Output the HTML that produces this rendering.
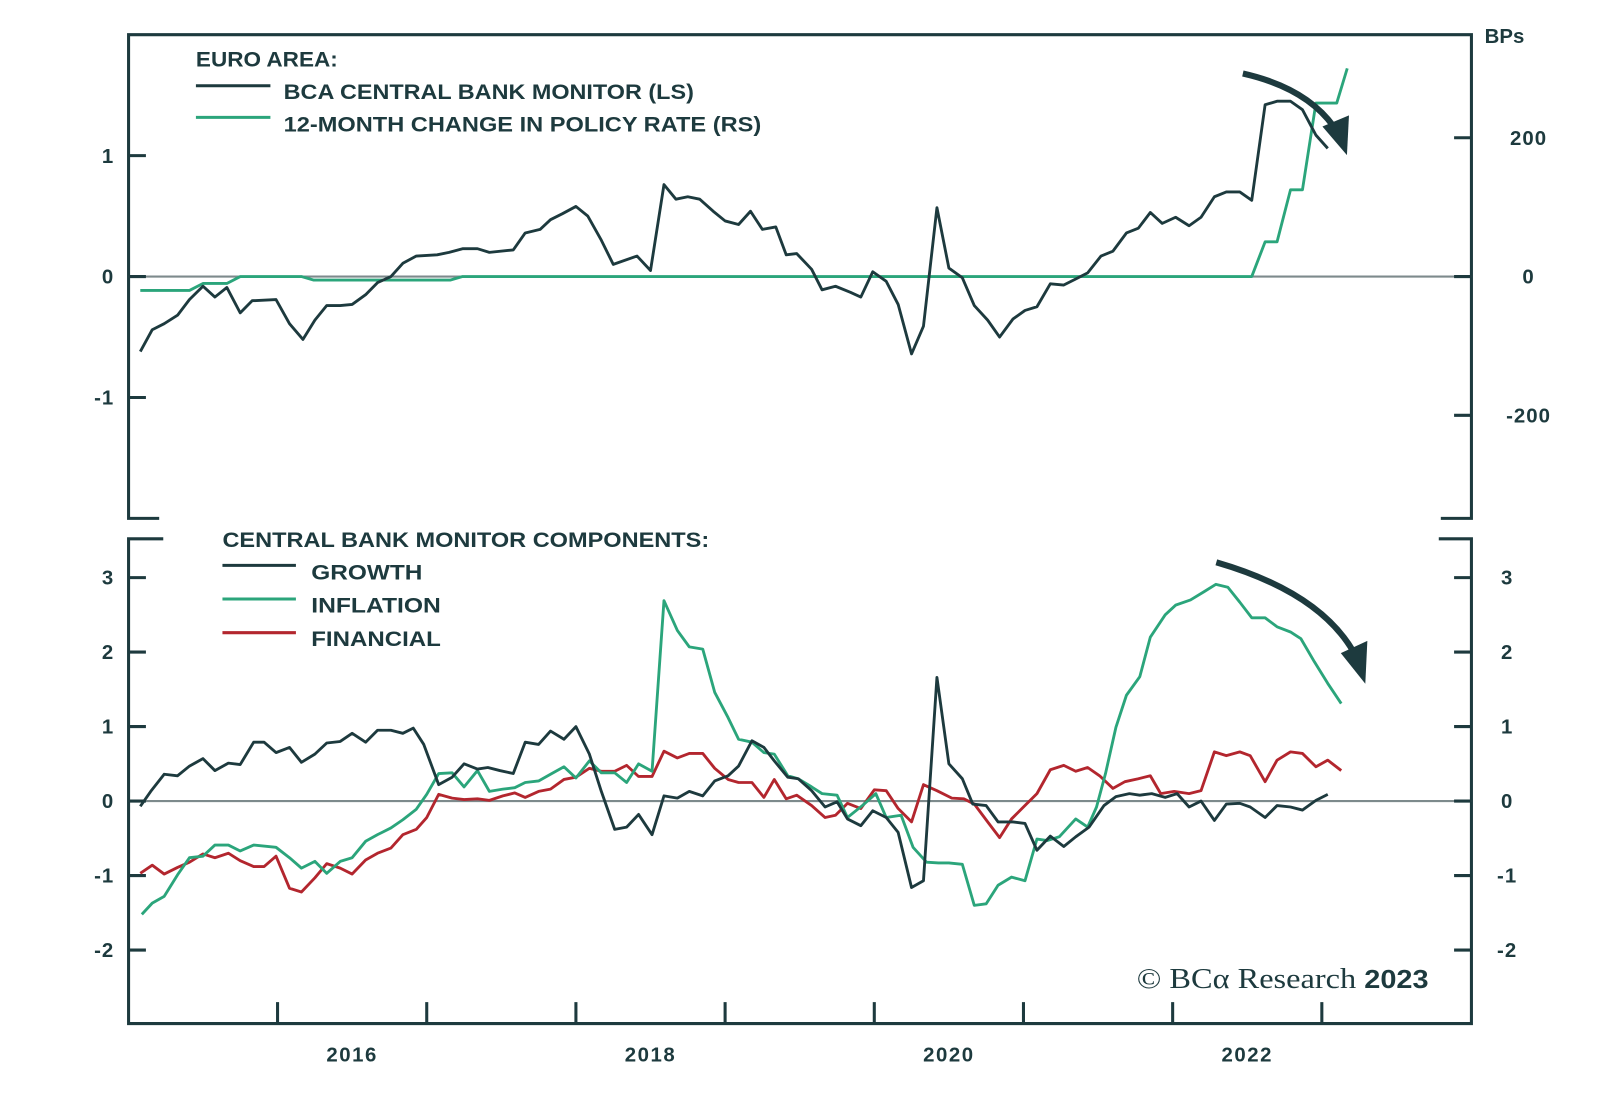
<!DOCTYPE html>
<html><head><meta charset="utf-8">
<style>
html,body{margin:0;padding:0;background:#fff;}
svg{display:block;}
text{font-family:"Liberation Sans",sans-serif;font-weight:bold;fill:#1d3a3e;}
</style></head>
<body>
<svg id="chart" width="1600" height="1096" viewBox="0 0 1568 1074" preserveAspectRatio="none" xmlns="http://www.w3.org/2000/svg">
<g id="frames" stroke="#1d3a3e" stroke-width="3" fill="none">
  <path d="M156,508 H126 V34 H1442 V508 H1412"/>
  <path d="M160,528 H126 V1003 H1442 V528 H1410"/>
</g>
<g id="axes"></g>
<g id="series"></g>
<g>
  <text x="192" y="65" font-size="21" textLength="139" lengthAdjust="spacingAndGlyphs">EURO AREA:</text>
  <line x1="192" y1="84" x2="265" y2="84" stroke="#1d3a3e" stroke-width="3"/>
  <text x="278" y="97" font-size="21" textLength="402" lengthAdjust="spacingAndGlyphs">BCA CENTRAL BANK MONITOR (LS)</text>
  <line x1="192" y1="115" x2="265" y2="115" stroke="#2ba57b" stroke-width="3"/>
  <text x="278" y="129" font-size="21" textLength="468" lengthAdjust="spacingAndGlyphs">12-MONTH CHANGE IN POLICY RATE (RS)</text>
</g>
<g>
  <text x="218" y="536" font-size="21" textLength="477" lengthAdjust="spacingAndGlyphs">CENTRAL BANK MONITOR COMPONENTS:</text>
  <line x1="218" y1="554" x2="290" y2="554" stroke="#1d3a3e" stroke-width="3"/>
  <text x="305" y="568" font-size="21" textLength="109" lengthAdjust="spacingAndGlyphs">GROWTH</text>
  <line x1="218" y1="587" x2="290" y2="587" stroke="#2ba57b" stroke-width="3"/>
  <text x="305" y="600" font-size="21" textLength="127" lengthAdjust="spacingAndGlyphs">INFLATION</text>
  <line x1="218" y1="620" x2="290" y2="620" stroke="#b3262e" stroke-width="3"/>
  <text x="305" y="633" font-size="21" textLength="127" lengthAdjust="spacingAndGlyphs">FINANCIAL</text>
</g>
<text x="1114" y="968" font-size="28" style="font-family:'Liberation Serif',serif;font-weight:normal" textLength="286" lengthAdjust="spacingAndGlyphs">© BCα Research <tspan style="font-family:'Liberation Sans',sans-serif;font-weight:bold" font-size="25">2023</tspan></text>
<g>
  <path d="M1218,72 Q1280,86 1307,124" stroke="#1d3a3e" stroke-width="6" fill="none"/>
  <path d="M1296,124 L1322,113 L1320,152 Z" fill="#1d3a3e"/>
</g>
<g>
  <path d="M1192,551 Q1292,580 1326,638" stroke="#1d3a3e" stroke-width="6" fill="none"/>
  <path d="M1314,640 L1340,628 L1338,670 Z" fill="#1d3a3e"/>
</g>
</svg>
<script>
// ---- data ----
const monitorDates=[2015.08,2015.16,2015.24,2015.33,2015.41,2015.50,2015.58,2015.66,2015.75,2015.83,2015.99,2016.08,2016.17,2016.25,2016.33,2016.42,2016.50,2016.59,2016.67,2016.76,2016.84,2016.93,2017.07,2017.15,2017.24,2017.34,2017.42,2017.58,2017.66,2017.76,2017.83,2017.91,2018.00,2018.08,2018.17,2018.25,2018.41,2018.50,2018.59,2018.67,2018.75,2018.83,2018.92,2019.00,2019.09,2019.17,2019.25,2019.34,2019.41,2019.48,2019.58,2019.65,2019.74,2019.84,2019.91,2019.99,2020.08,2020.16,2020.25,2020.33,2020.42,2020.50,2020.59,2020.67,2020.76,2020.84,2020.93,2021.01,2021.09,2021.18,2021.27,2021.35,2021.43,2021.52,2021.60,2021.69,2021.77,2021.85,2021.93,2022.02,2022.11,2022.19,2022.28,2022.36,2022.45,2022.53,2022.62,2022.70,2022.79,2022.87,2022.96,2023.04];
const monitorValues=[-0.62,-0.44,-0.39,-0.32,-0.19,-0.08,-0.17,-0.09,-0.30,-0.20,-0.19,-0.39,-0.52,-0.36,-0.24,-0.24,-0.23,-0.15,-0.05,0.00,0.11,0.17,0.18,0.20,0.23,0.23,0.20,0.22,0.36,0.39,0.47,0.52,0.58,0.50,0.30,0.10,0.17,0.05,0.76,0.64,0.66,0.64,0.54,0.46,0.43,0.54,0.39,0.41,0.18,0.19,0.06,-0.11,-0.08,-0.13,-0.17,0.04,-0.04,-0.23,-0.64,-0.41,0.57,0.07,-0.01,-0.24,-0.36,-0.50,-0.35,-0.28,-0.25,-0.06,-0.07,-0.02,0.03,0.17,0.21,0.36,0.40,0.53,0.44,0.49,0.42,0.49,0.66,0.70,0.70,0.63,1.42,1.45,1.45,1.38,1.17,1.06];
const rateDates=[2015.08,2015.41,2015.50,2015.66,2015.75,2016.16,2016.24,2017.16,2017.24,2022.53,2022.62,2022.70,2022.79,2022.87,2022.96,2023.10,2023.17];
const rateValues=[-20,-20,-10,-10,0,0,-5,-5,0,0,50,50,125,125,250,250,300];
const growthDates=[2015.08,2015.15,2015.24,2015.33,2015.41,2015.50,2015.58,2015.67,2015.75,2015.84,2015.91,2015.99,2016.08,2016.16,2016.25,2016.33,2016.42,2016.50,2016.59,2016.67,2016.76,2016.84,2016.91,2016.98,2017.08,2017.17,2017.25,2017.34,2017.41,2017.49,2017.58,2017.66,2017.75,2017.83,2017.92,2018.00,2018.09,2018.17,2018.26,2018.34,2018.42,2018.51,2018.59,2018.68,2018.76,2018.85,2018.93,2019.02,2019.09,2019.18,2019.26,2019.33,2019.42,2019.49,2019.58,2019.67,2019.75,2019.82,2019.91,2019.99,2020.08,2020.16,2020.25,2020.33,2020.42,2020.50,2020.59,2020.66,2020.75,2020.83,2020.93,2021.01,2021.09,2021.18,2021.27,2021.35,2021.44,2021.54,2021.62,2021.71,2021.78,2021.86,2021.95,2022.03,2022.11,2022.19,2022.28,2022.36,2022.45,2022.52,2022.62,2022.70,2022.79,2022.87,2022.96,2023.04];
const growthValues=[-0.07,0.13,0.36,0.34,0.47,0.57,0.41,0.51,0.49,0.79,0.79,0.65,0.72,0.52,0.63,0.78,0.80,0.91,0.79,0.95,0.95,0.91,0.98,0.76,0.22,0.32,0.50,0.43,0.45,0.41,0.37,0.79,0.76,0.94,0.83,1.00,0.63,0.13,-0.38,-0.35,-0.18,-0.45,0.07,0.04,0.13,0.07,0.27,0.34,0.47,0.81,0.72,0.54,0.32,0.30,0.14,-0.08,-0.01,-0.24,-0.33,-0.13,-0.22,-0.42,-1.16,-1.07,1.66,0.50,0.30,-0.04,-0.06,-0.28,-0.28,-0.30,-0.66,-0.47,-0.61,-0.48,-0.35,-0.06,0.06,0.10,0.08,0.10,0.05,0.10,-0.08,0.00,-0.26,-0.04,-0.03,-0.08,-0.22,-0.06,-0.08,-0.12,0.01,0.09];
const inflationDates=[2015.09,2015.16,2015.24,2015.33,2015.41,2015.50,2015.58,2015.67,2015.75,2015.84,2015.99,2016.08,2016.16,2016.25,2016.33,2016.42,2016.50,2016.59,2016.67,2016.76,2016.84,2016.93,2017.00,2017.08,2017.17,2017.25,2017.34,2017.42,2017.51,2017.59,2017.66,2017.75,2017.83,2017.92,2018.00,2018.09,2018.17,2018.26,2018.34,2018.42,2018.51,2018.59,2018.68,2018.76,2018.85,2018.93,2019.02,2019.09,2019.18,2019.26,2019.33,2019.42,2019.49,2019.58,2019.65,2019.75,2019.82,2019.92,2020.01,2020.08,2020.18,2020.26,2020.35,2020.43,2020.50,2020.59,2020.67,2020.75,2020.83,2020.92,2021.01,2021.09,2021.16,2021.24,2021.35,2021.43,2021.49,2021.55,2021.62,2021.69,2021.78,2021.85,2021.95,2022.02,2022.12,2022.21,2022.29,2022.37,2022.45,2022.53,2022.62,2022.70,2022.79,2022.86,2022.95,2023.04,2023.13];
const inflationValues=[-1.52,-1.37,-1.28,-0.99,-0.76,-0.74,-0.59,-0.59,-0.67,-0.59,-0.62,-0.76,-0.90,-0.81,-0.97,-0.81,-0.76,-0.54,-0.45,-0.36,-0.25,-0.11,0.09,0.37,0.38,0.19,0.41,0.13,0.16,0.18,0.25,0.27,0.36,0.46,0.31,0.54,0.38,0.38,0.25,0.50,0.40,2.69,2.29,2.07,2.04,1.46,1.12,0.83,0.79,0.65,0.63,0.34,0.30,0.19,0.10,0.08,-0.22,-0.06,0.10,-0.22,-0.19,-0.62,-0.82,-0.83,-0.83,-0.85,-1.40,-1.38,-1.13,-1.02,-1.07,-0.51,-0.53,-0.48,-0.24,-0.35,-0.08,0.37,0.99,1.42,1.67,2.20,2.50,2.63,2.70,2.81,2.91,2.87,2.67,2.46,2.46,2.34,2.27,2.18,1.87,1.58,1.31];
const financialDates=[2015.08,2015.16,2015.24,2015.33,2015.41,2015.50,2015.58,2015.67,2015.75,2015.84,2015.91,2015.99,2016.08,2016.16,2016.25,2016.33,2016.42,2016.50,2016.59,2016.67,2016.76,2016.84,2016.93,2017.00,2017.08,2017.17,2017.25,2017.34,2017.42,2017.51,2017.59,2017.66,2017.75,2017.83,2017.92,2018.00,2018.09,2018.17,2018.26,2018.34,2018.42,2018.51,2018.59,2018.68,2018.76,2018.85,2018.93,2019.02,2019.09,2019.18,2019.26,2019.33,2019.41,2019.48,2019.58,2019.67,2019.74,2019.82,2019.91,2020.00,2020.08,2020.16,2020.25,2020.33,2020.42,2020.52,2020.60,2020.67,2020.76,2020.84,2020.92,2021.00,2021.09,2021.18,2021.27,2021.35,2021.43,2021.51,2021.60,2021.68,2021.77,2021.85,2021.92,2022.01,2022.11,2022.19,2022.28,2022.36,2022.45,2022.52,2022.62,2022.70,2022.79,2022.87,2022.96,2023.04,2023.13];
const financialValues=[-0.97,-0.86,-0.98,-0.89,-0.82,-0.71,-0.76,-0.70,-0.80,-0.88,-0.88,-0.74,-1.17,-1.22,-1.03,-0.84,-0.90,-0.98,-0.79,-0.70,-0.63,-0.45,-0.38,-0.22,0.09,0.04,0.02,0.03,0.01,0.07,0.11,0.05,0.13,0.16,0.29,0.32,0.44,0.40,0.40,0.48,0.33,0.33,0.67,0.58,0.64,0.64,0.44,0.29,0.25,0.25,0.05,0.29,0.03,0.08,-0.06,-0.22,-0.19,-0.03,-0.10,0.15,0.14,-0.10,-0.28,0.22,0.14,0.04,0.03,-0.04,-0.28,-0.49,-0.24,-0.08,0.10,0.42,0.48,0.40,0.45,0.34,0.17,0.26,0.30,0.34,0.10,0.13,0.10,0.14,0.66,0.61,0.66,0.61,0.26,0.55,0.66,0.64,0.46,0.55,0.41];
const yearTicks=[2016,2017,2018,2019,2020,2021,2022,2023];
const yearLabels=[2016,2018,2020,2022];
const topLeftTicks=[1,0,-1];
const topRightTicks=[200,0,-200];
const bottomTicks=[3,2,1,0,-1,-2];

// ---- scales ----
const X0=272, XPY=146.2;
function x(yr){return X0+(yr-2016)*XPY;}
function yTopL(v){return 271-v*118.5;}
function yTopR(b){return 271-b*0.68;}
function yBot(v){return 785-v*73;}

const NS='http://www.w3.org/2000/svg';
const axes=document.getElementById('axes');
const series=document.getElementById('series');
function mk(tag,attrs,parent){const e=document.createElementNS(NS,tag);for(const k in attrs)e.setAttribute(k,attrs[k]);parent.appendChild(e);return e;}
const DARK='#1d3a3e';

let zl=mk('line',{x1:126,x2:1442,y1:yTopL(0),y2:yTopL(0),stroke:'#7d8a8c','stroke-width':2},axes);


zl=mk('line',{x1:126,x2:1442,y1:yBot(0),y2:yBot(0),stroke:'#7d8a8c','stroke-width':2},axes);



topLeftTicks.forEach(v=>{
  const y=yTopL(v);
  const t=mk('line',{x1:126,x2:143,y1:y,y2:y,stroke:DARK,'stroke-width':3},axes);
  
  
  const l=mk('text',{x:112,y:y+7,'text-anchor':'end','font-size':20,'letter-spacing':1},axes);
  l.textContent=String(v);
  
  
});
topRightTicks.forEach(v=>{
  const y=yTopR(v);
  const t=mk('line',{x1:1425,x2:1442,y1:y,y2:y,stroke:DARK,'stroke-width':3},axes);
  
  
  const l=mk('text',{x:1498,y:y+7,'text-anchor':'middle','font-size':20,'letter-spacing':1},axes);
  l.textContent=String(v);
  
  
});
const bps=mk('text',{x:1455,y:42,'font-size':20},axes);
bps.textContent='BPs';



bottomTicks.forEach(v=>{
  const y=yBot(v);
  let t=mk('line',{x1:126,x2:143,y1:y,y2:y,stroke:DARK,'stroke-width':3},axes);
  
  
  t=mk('line',{x1:1425,x2:1442,y1:y,y2:y,stroke:DARK,'stroke-width':3},axes);
  
  
  let l=mk('text',{x:112,y:y+7,'text-anchor':'end','font-size':20,'letter-spacing':1},axes);
  l.textContent=String(v);
  
  
  l=mk('text',{x:1477,y:y+7,'text-anchor':'middle','font-size':20,'letter-spacing':1},axes);
  l.textContent=String(v);
  
  
});
yearTicks.forEach(yr=>{
  const t=mk('line',{x1:x(yr),x2:x(yr),y1:982,y2:1003,stroke:DARK,'stroke-width':3},axes);
  
  
});
yearLabels.forEach(yr=>{
  const l=mk('text',{x:x(yr+0.5),y:1040,'text-anchor':'middle','font-size':20,'letter-spacing':1.5},axes);
  l.textContent=String(yr);
  
  
});

function line(dates,vals,yf,color,name){
  const d=dates.map((t,i)=>(i?'L':'M')+x(t).toFixed(1)+','+yf(vals[i]).toFixed(1)).join(' ');
  const p=mk('path',{d:d,fill:'none',stroke:color,'stroke-width':2.8,'stroke-linejoin':'round'},series);
  
  
}
line(rateDates,rateValues,yTopR,'#2ba57b','policy-rate-change-line');
line(monitorDates,monitorValues,yTopL,DARK,'central-bank-monitor-line');
line(financialDates,financialValues,yBot,'#b3262e','financial-line');
line(inflationDates,inflationValues,yBot,'#2ba57b','inflation-line');
line(growthDates,growthValues,yBot,DARK,'growth-line');
</script>
</body></html>
